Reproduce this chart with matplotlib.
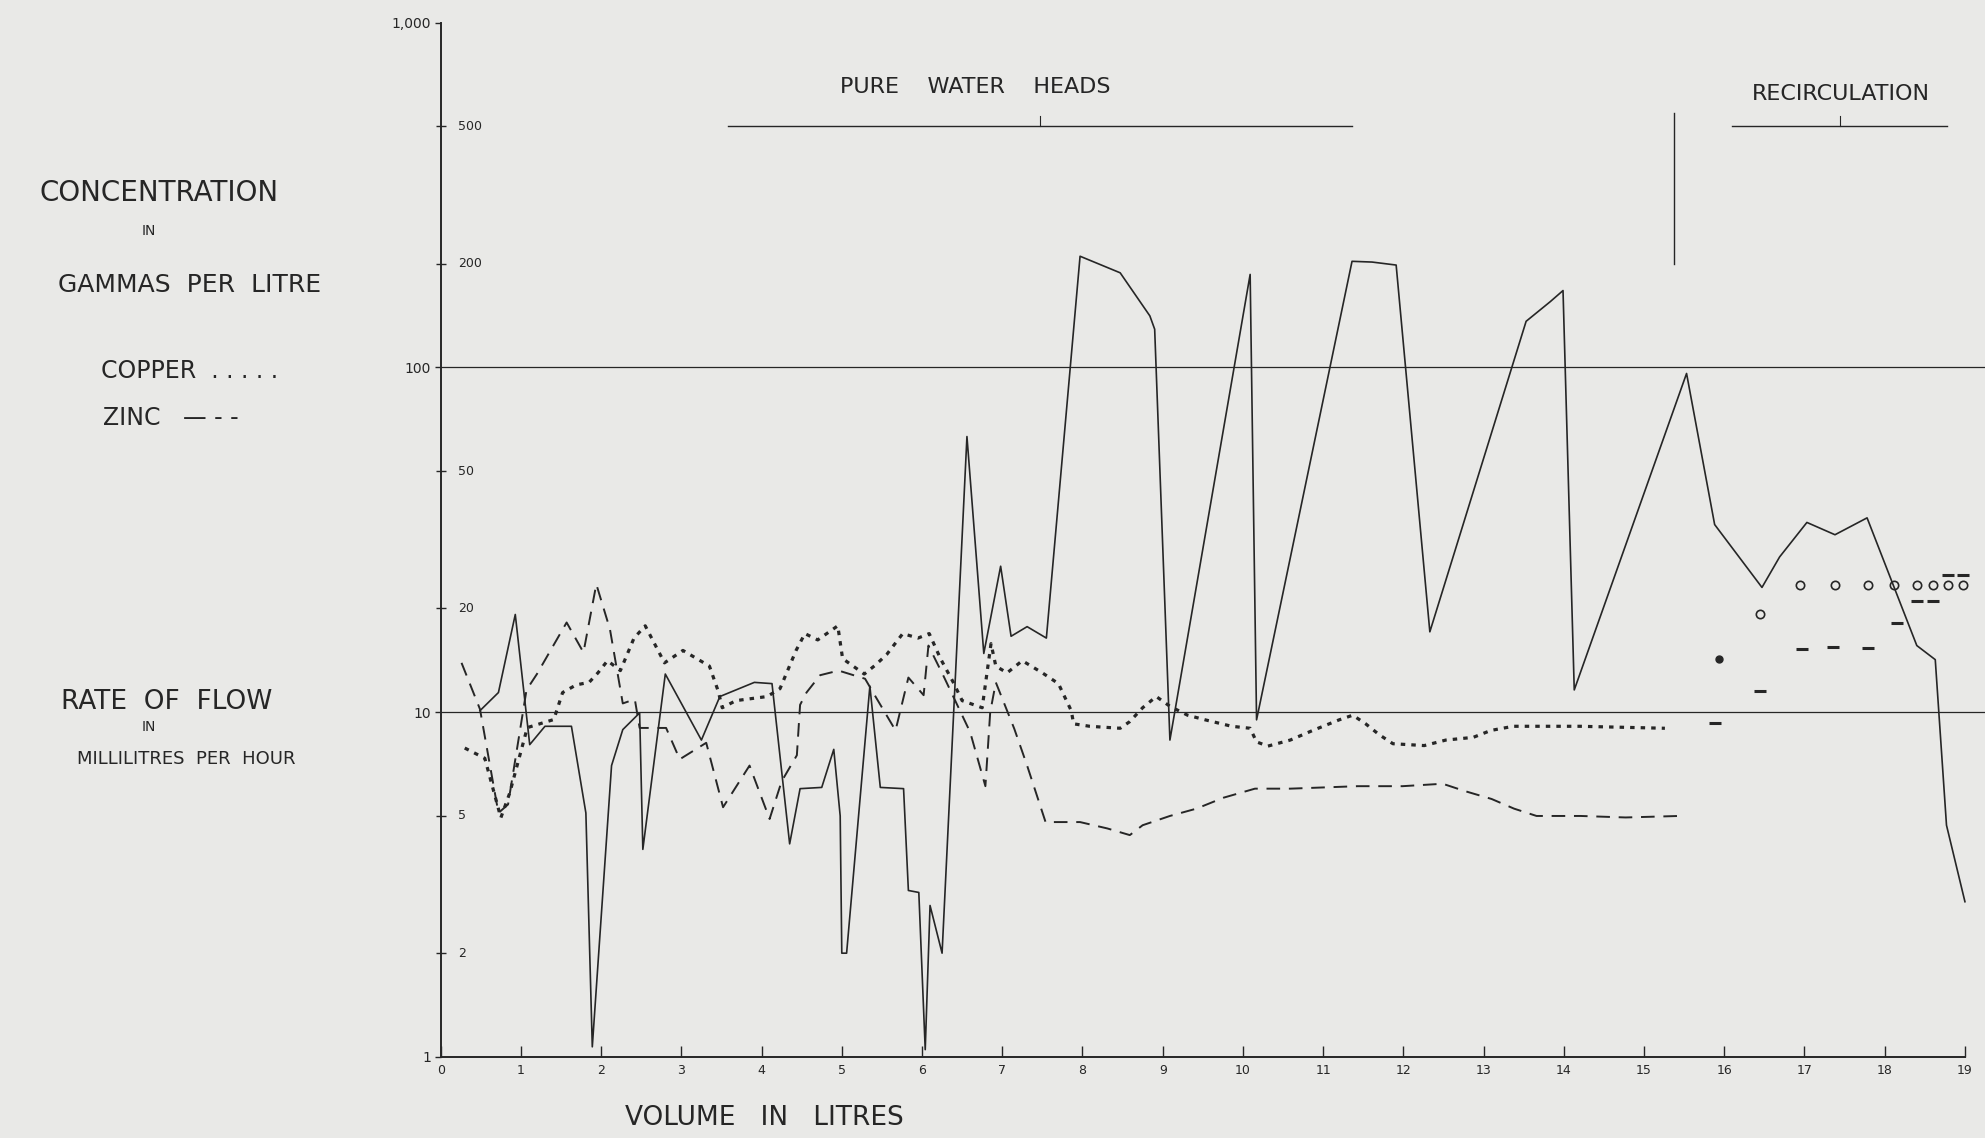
#!/usr/bin/env python3
"""
Copper / zinc concentration and rate of flow versus volume passed
(pure water heads, then recirculation). Log scale, hand-drawn style chart.
"""

import matplotlib
matplotlib.use('Agg')
import matplotlib.pyplot as plt
from matplotlib.ticker import FixedLocator, NullFormatter


# ============================================================================
# Data
# ============================================================================

# rate of flow, ml per hour (solid line)
flow_volume = [0.49, 0.72, 0.93, 1.11, 1.30, 1.63, 1.81, 1.89, 2.13, 2.27,
               2.48, 2.52, 2.80, 3.25, 3.48, 3.91, 4.13, 4.35, 4.48, 4.75,
               4.90, 4.98, 5.00, 5.06, 5.35, 5.48, 5.77, 5.83, 5.96, 6.04,
               6.10, 6.25, 6.56, 6.77, 6.98, 7.11, 7.31, 7.55, 7.97, 8.47,
               8.84, 8.90, 9.09, 10.09, 10.17, 11.36, 11.61, 11.91, 12.33, 13.53,
               13.83, 13.99, 14.13, 15.53, 15.88, 16.47, 16.69, 17.03, 17.38, 17.78,
               18.40, 18.63, 18.77, 19.00]
flow_rate = [10.1, 11.4, 19.2, 8.05, 9.1, 9.1, 5.1, 1.07, 7.0, 8.9,
             9.95, 4.0, 12.9, 8.3, 11.1, 12.2, 12.1, 4.15, 6.0, 6.05,
             7.8, 5.0, 2.0, 2.0, 11.9, 6.05, 6.0, 3.04, 3.0, 1.05,
             2.75, 2.0, 63.0, 14.8, 26.5, 16.6, 17.7, 16.4, 210.0, 188.0,
             141.0, 129.0, 8.3, 186.0, 9.5, 203.0, 202.0, 198.0, 17.1, 136.0,
             155.0, 167.0, 11.6, 96.0, 35.0, 23.0, 28.2, 35.5, 32.7, 36.6,
             15.6, 14.2, 4.7, 2.82]

# copper, gammas per litre (dotted line)
copper_volume = [0.30, 0.55, 0.75, 0.86, 1.08, 1.41, 1.52, 1.69, 1.85, 1.96,
                 2.08, 2.24, 2.41, 2.55, 2.79, 3.02, 3.35, 3.46, 3.51, 3.68,
                 4.07, 4.23, 4.43, 4.54, 4.70, 4.95, 5.01, 5.28, 5.42, 5.56,
                 5.76, 5.95, 6.09, 6.23, 6.39, 6.50, 6.75, 6.86, 6.92, 7.06,
                 7.25, 7.50, 7.70, 7.86, 7.89, 8.09, 8.47, 8.59, 8.75, 8.92,
                 9.09, 9.31, 9.53, 9.86, 10.09, 10.17, 10.31, 10.59, 10.87, 11.20,
                 11.37, 11.53, 11.70, 11.87, 12.26, 12.53, 12.87, 13.09, 13.37, 14.20,
                 15.26]
copper_conc = [7.87, 7.35, 4.94, 5.82, 9.02, 9.52, 11.4, 12.0, 12.2, 13.0,
               14.1, 13.2, 16.4, 17.8, 13.9, 15.1, 13.6, 11.5, 10.3, 10.8,
               11.1, 11.7, 15.1, 16.9, 16.2, 17.8, 14.3, 12.9, 13.7, 14.7,
               16.9, 16.4, 16.9, 14.3, 12.2, 10.8, 10.3, 15.8, 13.6, 13.0,
               14.1, 13.0, 12.1, 10.1, 9.25, 9.1, 8.98, 9.39, 10.3, 11.1,
               10.4, 9.8, 9.5, 9.1, 8.98, 8.2, 7.97, 8.3, 8.85, 9.5,
               9.8, 9.25, 8.6, 8.1, 8.0, 8.3, 8.45, 8.85, 9.1, 9.1,
               8.98]

# zinc, gammas per litre (dashed line)
zinc_volume = [0.26, 0.49, 0.72, 0.84, 1.07, 1.20, 1.57, 1.78, 1.94, 2.11,
               2.27, 2.42, 2.48, 2.81, 2.98, 3.31, 3.52, 3.85, 4.10, 4.25,
               4.44, 4.48, 4.56, 4.73, 4.96, 5.29, 5.44, 5.67, 5.83, 6.02,
               6.08, 6.27, 6.60, 6.79, 6.85, 6.92, 7.15, 7.31, 7.54, 7.97,
               8.31, 8.59, 8.75, 9.09, 9.42, 9.76, 10.15, 10.59, 11.43, 11.99,
               12.49, 12.77, 13.10, 13.38, 13.66, 14.21, 14.77, 15.44]
zinc_conc = [13.9, 10.2, 5.1, 5.4, 11.6, 12.9, 18.2, 14.9, 23.5, 17.4,
             10.6, 10.9, 9.0, 9.0, 7.3, 8.15, 5.3, 7.0, 4.9, 6.3,
             7.5, 10.5, 11.4, 12.8, 13.2, 12.5, 10.9, 8.85, 12.6, 11.2,
             15.6, 12.7, 8.75, 6.1, 10.0, 12.2, 8.95, 7.0, 4.8, 4.8,
             4.6, 4.4, 4.7, 5.0, 5.25, 5.65, 6.0, 6.0, 6.1, 6.1,
             6.2, 5.9, 5.6, 5.25, 5.0, 5.0, 4.95, 5.0]

# recirculation period: isolated points
recirc_circle_volume = [16.45, 16.95, 17.38, 17.79, 18.12, 18.40, 18.60, 18.79, 18.98]
recirc_circle_conc = [19.2, 23.4, 23.4, 23.4, 23.4, 23.4, 23.4, 23.4, 23.4]
recirc_dash_volume = [15.88, 16.45, 16.97, 17.36, 17.79, 18.15, 18.40, 18.60, 18.79, 18.98]
recirc_dash_conc = [9.3, 11.5, 15.2, 15.5, 15.3, 18.1, 21.0, 21.0, 25.0, 25.0]
recirc_blob_volume = [15.93]
recirc_blob_conc = [14.3]

# axis ticks
x_ticks = list(range(20))
y_outer_ticks = [1, 10, 100, 1000]
y_outer_labels = ['1', '10', '100', '1,000']
y_inner_ticks = [2, 5, 20, 50, 200, 500]
y_inner_labels = ['2', '5', '20', '50', '200', '500']

# phase markers
PURE_SPAN = (3.58, 11.36)
RECIRC_SPAN = (16.10, 18.78)
BRACKET_LEVEL = 500
PHASE_BREAK = 15.37


# ============================================================================
# Style
# ============================================================================

PAPER = '#e9e9e7'
INK = '#262626'
plt.rcParams['font.family'] = ['DejaVu Sans']


def draw_chart(output_path):
    fig = plt.figure(figsize=(19.85, 11.38), dpi=100, facecolor=PAPER)
    ax = fig.add_axes([0.222, 0.0712, 0.778, 0.909])
    ax.set_facecolor(PAPER)

    ax.set_yscale('log')
    ax.set_xlim(0, 19.25)
    ax.set_ylim(1, 1000)

    # reference lines at 10 and 100
    for level in (10, 100):
        ax.axhline(level, color=INK, lw=0.9, zorder=1)

    # ---------- series ----------
    ax.plot(flow_volume, flow_rate, color=INK, lw=1.2, zorder=3)
    ax.plot(copper_volume, copper_conc, color=INK, lw=2.3,
            linestyle=(0, (1.4, 1.9)), zorder=3)
    ax.plot(zinc_volume, zinc_conc, color=INK, lw=1.4,
            linestyle=(0, (7, 4.5)), zorder=3)

    ax.plot(recirc_circle_volume, recirc_circle_conc, linestyle='none',
            marker='o', markersize=6, mfc='none', mec=INK, mew=1.2)
    ax.plot(recirc_dash_volume, recirc_dash_conc, linestyle='none',
            marker='_', markersize=8, mec=INK, mew=2.2)
    ax.plot(recirc_blob_volume, recirc_blob_conc, linestyle='none',
            marker='o', markersize=5, color=INK)

    # ---------- phase brackets ----------
    ax.plot(PURE_SPAN, [BRACKET_LEVEL] * 2, color=INK, lw=1.0)
    ax.plot([sum(PURE_SPAN) / 2] * 2, [BRACKET_LEVEL, 535], color=INK, lw=0.8)
    ax.text(6.66, 650, 'PURE    WATER    HEADS', ha='center', va='center',
            fontsize=16, color=INK)

    ax.plot(RECIRC_SPAN, [BRACKET_LEVEL] * 2, color=INK, lw=1.0)
    ax.plot([sum(RECIRC_SPAN) / 2] * 2, [BRACKET_LEVEL, 535], color=INK, lw=0.8)
    ax.text(17.45, 620, 'RECIRCULATION', ha='center', va='center',
            fontsize=16, color=INK)

    ax.plot([PHASE_BREAK] * 2, [200, 545], color=INK, lw=1.0)

    # ---------- axes ----------
    for side in ('top', 'right'):
        ax.spines[side].set_visible(False)
    ax.spines['left'].set_color(INK)
    ax.spines['left'].set_linewidth(1.4)
    ax.spines['bottom'].set_color(INK)
    ax.spines['bottom'].set_linewidth(1.4)
    ax.spines['bottom'].set_bounds(0, 19)

    ax.set_xticks(x_ticks)
    ax.set_xticklabels([str(t) for t in x_ticks])
    ax.tick_params(axis='x', direction='in', length=8, width=1.0,
                   color=INK, labelsize=9, labelcolor=INK, pad=5)

    ax.yaxis.set_major_locator(FixedLocator(y_outer_ticks))
    ax.set_yticklabels(y_outer_labels)
    ax.yaxis.set_minor_locator(FixedLocator(y_inner_ticks))
    ax.yaxis.set_minor_formatter(NullFormatter())
    ax.tick_params(axis='y', which='major', direction='out', length=4,
                   width=1.0, color=INK, labelsize=10, labelcolor=INK, pad=3)
    ax.tick_params(axis='y', which='minor', direction='inout', length=7,
                   width=1.0, color=INK)
    for val, lab in zip(y_inner_ticks, y_inner_labels):
        ax.text(0.011, val, lab, transform=ax.get_yaxis_transform(),
                ha='left', va='center', fontsize=9, color=INK)

    # ---------- left-hand labels ----------
    fig.text(0.080, 0.830, 'CONCENTRATION', ha='center', va='center',
             fontsize=20, color=INK)
    fig.text(0.075, 0.797, 'IN', ha='center', va='center', fontsize=10, color=INK)
    fig.text(0.0957, 0.750, 'GAMMAS  PER  LITRE', ha='center', va='center',
             fontsize=18, color=INK)
    fig.text(0.051, 0.674, 'COPPER  . . . . .', ha='left', va='center',
             fontsize=17, color=INK)
    fig.text(0.052, 0.633, 'ZINC   — - -', ha='left', va='center',
             fontsize=17, color=INK)

    fig.text(0.084, 0.383, 'RATE  OF  FLOW', ha='center', va='center',
             fontsize=19, color=INK)
    fig.text(0.075, 0.361, 'IN', ha='center', va='center', fontsize=10, color=INK)
    fig.text(0.094, 0.333, 'MILLILITRES  PER  HOUR', ha='center', va='center',
             fontsize=13, color=INK)

    fig.text(0.385, 0.018, 'VOLUME   IN   LITRES', ha='center', va='center',
             fontsize=19, color=INK)

    fig.savefig(output_path, dpi=100, facecolor=PAPER)
    plt.close(fig)


def main():
    draw_chart('out.png')


if __name__ == '__main__':
    main()
